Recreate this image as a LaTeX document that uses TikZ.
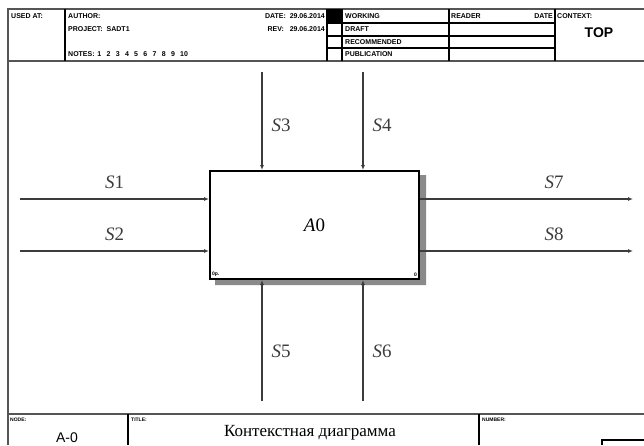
\documentclass[tikz,border=0pt]{standalone}
\usepackage{fontspec}
\setmainfont{Liberation Serif}
\newfontfamily\hdrfont{Liberation Sans}
\usetikzlibrary{arrows.meta,positioning,calc}
\definecolor{FrameLine}{HTML}{555555}
\definecolor{FlowLine}{HTML}{3C3C3C}
\definecolor{ShadowFill}{HTML}{8A8A8A}
\tikzset{>=Latex,frame/.style={FrameLine,line width=1.6pt},rule/.style={black,line width=1.1pt},
 hdr/.style={font=\hdrfont\fontsize{7}{8}\bfseries\selectfont,inner sep=0pt},
 tinylab/.style={font=\hdrfont\fontsize{5}{6}\bfseries\selectfont,inner sep=0pt},
 flow/.style={FlowLine,line width=1.4pt,-{Latex[length=5pt,width=4pt]}},
 arclab/.style={font=\fontsize{19}{21}\selectfont,inner sep=0pt},
 act/.style={draw=black,line width=2pt,fill=white,minimum width=209pt,minimum height=108pt,
 inner sep=0pt,font=\fontsize{19}{21}\selectfont}}
\begin{document}
\begin{tikzpicture}[x=1pt,y=-1pt]
\useasboundingbox (0,0) rectangle (644,445);
\draw[frame] (8,445)--(8,9)--(644,9);
\draw[frame] (8,61)--(644,61);
\draw[frame] (8,414)--(644,414);
\foreach \x in {65,327,342,449,555}\draw[rule] (\x,9)--(\x,61);
\foreach \y in {23,36,48}\draw[rule] (327,\y)--(555,\y);
\fill (327,9) rectangle (342,23);
\foreach \x in {128,479}\draw[rule] (\x,414)--(\x,445);
\draw[rule] (602,445)--(602,440)--(644,440);
\node[hdr,anchor=base west] (usedat) at (11,18) {USED AT:};
\node[hdr,anchor=base west] (author) at (68,18) {AUTHOR:};
\node[hdr,anchor=base west] (project) at (68,31) {PROJECT:\ \ SADT1};
\node[hdr,anchor=base west] (notes) at (68,56) {NOTES:};
\foreach \n in {1,...,10}\node[hdr,anchor=base west] (note\n) at ({88+9.2*\n},56) {\n};
\node[hdr,anchor=base east] (date) at (325,18) {DATE:\ \ 29.06.2014};
\node[hdr,anchor=base east] (rev) at (325,31) {REV:\ \ \ 29.06.2014};
\foreach \s/\y in {WORKING/18,DRAFT/31,RECOMMENDED/44,PUBLICATION/56}
 \node[hdr,anchor=base west] (\s) at (345,\y) {\s};
\node[hdr,anchor=base west] (reader) at (451,18) {READER};
\node[hdr,anchor=base east] (readdate) at (553,18) {DATE};
\node[hdr,anchor=base west] (context) at (557,18) {CONTEXT:};
\node[font=\hdrfont\fontsize{14}{16}\bfseries\selectfont] (top) at (599,33) {TOP};
\node[tinylab,anchor=base west] (nodelab) at (10,421) {NODE:};
\node[tinylab,anchor=base west] (titlelab) at (131,421) {TITLE:};
\node[tinylab,anchor=base west] (numberlab) at (482,421) {NUMBER:};
\node[font=\hdrfont\fontsize{14}{16}\selectfont] (nodeno) at (67,438) {A-0};
\node[font=\fontsize{17}{19}\selectfont] (title) at (310,433) {Контекстная диаграмма};
\node[act,anchor=north west] (a0) at (209,170) {\textit{A}0};
\fill[ShadowFill] ([shift={(0,5)}]a0.north east) -- ++(6,0) -- ([shift={(6,5)}]a0.south east)
 -- ([shift={(6,5)}]a0.south west) -- ([shift={(6,0)}]a0.south west) -- (a0.south east) -- cycle;
\node[tinylab,anchor=south west] (a0cost) at ([shift={(3,-3)}]a0.south west) {0p.};
\node[tinylab,anchor=south east] (a0num) at ([shift={(-3,-3)}]a0.south east) {0};
\coordinate (s1tail) at (20,199);
\coordinate (s2tail) at (20,251);
\coordinate (s3tail) at (262,72);
\coordinate (s4tail) at (363,72);
\coordinate (s5tail) at (262,401);
\coordinate (s6tail) at (363,401);
\coordinate (s7head) at (633,199);
\coordinate (s8head) at (633,251);
\draw[flow] (s1tail) -- (s1tail -| a0.west) node[arclab,midway,above=10pt] (s1) {\textit{S}1};
\draw[flow] (s2tail) -- (s2tail -| a0.west) node[arclab,midway,above=10pt] (s2) {\textit{S}2};
\draw[flow] (s3tail) -- (s3tail |- a0.north) node[arclab,pos=0.54,right=9pt] (s3) {\textit{S}3};
\draw[flow] (s4tail) -- (s4tail |- a0.north) node[arclab,pos=0.54,right=9pt] (s4) {\textit{S}4};
\draw[flow] (s5tail) -- (s5tail |- a0.south) node[arclab,pos=0.41,right=9pt] (s5) {\textit{S}5};
\draw[flow] (s6tail) -- (s6tail |- a0.south) node[arclab,pos=0.41,right=9pt] (s6) {\textit{S}6};
\draw[flow] (s7head -| a0.east) -- (s7head) node[arclab,pos=0.63,above=10pt] (s7) {\textit{S}7};
\draw[flow] (s8head -| a0.east) -- (s8head) node[arclab,pos=0.63,above=10pt] (s8) {\textit{S}8};
\end{tikzpicture}
\end{document}
